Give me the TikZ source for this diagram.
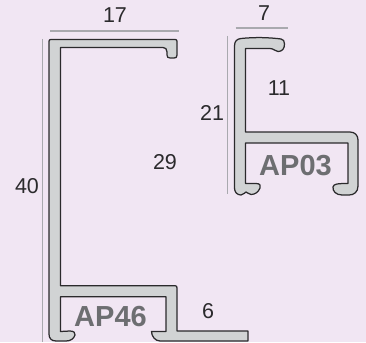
\documentclass[tikz,border=0pt]{standalone}
\usepackage{fontspec}
\setmainfont{Liberation Sans}
\definecolor{bg}{HTML}{F1E6F3}
\definecolor{prof}{HTML}{D1D3D4}
\definecolor{edge}{HTML}{2B2A2C}
\definecolor{dimc}{HTML}{A9A9AE}
\definecolor{lab}{HTML}{6D6E71}
\definecolor{num}{HTML}{2B2A2C}
\tikzset{
  profile/.style={fill=prof,draw=edge,line width=1.25pt,line join=round},
  dimline/.style={draw=dimc,line width=1.4pt},
  numtext/.style={text=num,inner sep=0pt,font=\fontsize{21.5pt}{22pt}\selectfont},
  nametext/.style={text=lab,inner sep=0pt,font=\fontsize{29pt}{30pt}\selectfont\bfseries}
}
\begin{document}
\begin{tikzpicture}[x=1pt,y=-1pt]
\useasboundingbox (0,0) rectangle (366,342);
\fill[bg] (0,0) rectangle (366,342);
% dimension lines
\draw[dimline] (50,31) -- (178.5,31);
\draw[dimline] (42.3,39) -- (42.3,342);
\draw[dimline] (235.5,28) -- (288,28);
\draw[dimline] (227.7,36) -- (227.7,194);
% AP46
\draw[profile] (51,39.5) -- (175,39.5) .. controls (176.5,39.5) and (177,40) .. (177,41.5)
  -- (177,55) .. controls (177,57.5) and (176,58) .. (174,58) -- (170,58)
  .. controls (168,58) and (167,57) .. (167,55) -- (167,52)
  .. controls (167,49) and (165.5,47.5) .. (163,47.5) -- (60.5,47.5)
  -- (60.5,285.7) -- (175,285.7) .. controls (176.5,285.7) and (177,286.5) .. (177,288)
  -- (177,331) -- (248,331) -- (248,341) -- (160,341)
  .. controls (155,341) and (151.5,336) .. (151.5,331.5)
  -- (166,331.5) -- (166,296.7) -- (60.5,296.7) -- (60.5,331.5) -- (70,331)
  .. controls (74,331) and (75.5,333) .. (75,335)
  .. controls (74,339) and (70,341) .. (66,341) -- (56,341)
  .. controls (51,341) and (49,338) .. (49,334) -- (49,41.5)
  .. controls (49,40) and (49.5,39.5) .. (51,39.5) -- cycle;
% AP03
\draw[profile] (241,38.5) .. controls (255,37) and (270,37.5) .. (281,39)
  .. controls (283.5,39.5) and (284.5,41) .. (284.5,44)
  .. controls (284.5,49) and (282,51.5) .. (278,51.5)
  .. controls (275,51.5) and (274,48.5) .. (270,48.5)
  -- (245.5,48.5) -- (245.5,132) -- (350,132)
  .. controls (355,132) and (358,135.5) .. (358,140)
  -- (358,186) .. controls (358,192) and (354,195) .. (349,195)
  -- (342,195) .. controls (336,195) and (332.5,191) .. (333,187)
  .. controls (333.5,184) and (337,183.5) .. (348,183.5)
  -- (348,143) -- (245.5,143) -- (245.5,183.5) -- (256,183.5)
  .. controls (260,183.5) and (261,185.5) .. (260,188)
  .. controls (258.5,192) and (255,194.5) .. (251,194.5)
  .. controls (248.5,194.5) and (247.5,192) .. (246,192)
  .. controls (244.5,192) and (244,195) .. (241,195)
  .. controls (237,195) and (234.5,192) .. (234.5,188)
  -- (234.5,46) .. controls (234.5,41) and (237,39) .. (241,38.5) -- cycle;
% labels
\node[numtext] (n17) at (115,15) {17};
\node[numtext] (n40) at (27,186) {40};
\node[numtext] (n29) at (165,162) {29};
\node[numtext] (n21) at (212,113) {21};
\node[numtext] (n11) at (279,88) {11};
\node[numtext] (n7) at (264,13) {7};
\node[numtext] (n6) at (208,311) {6};
\node[nametext] (ap46) at (110.5,316.5) {AP46};
\node[nametext] (ap03) at (295.5,165.5) {AP03};
\end{tikzpicture}
\end{document}
